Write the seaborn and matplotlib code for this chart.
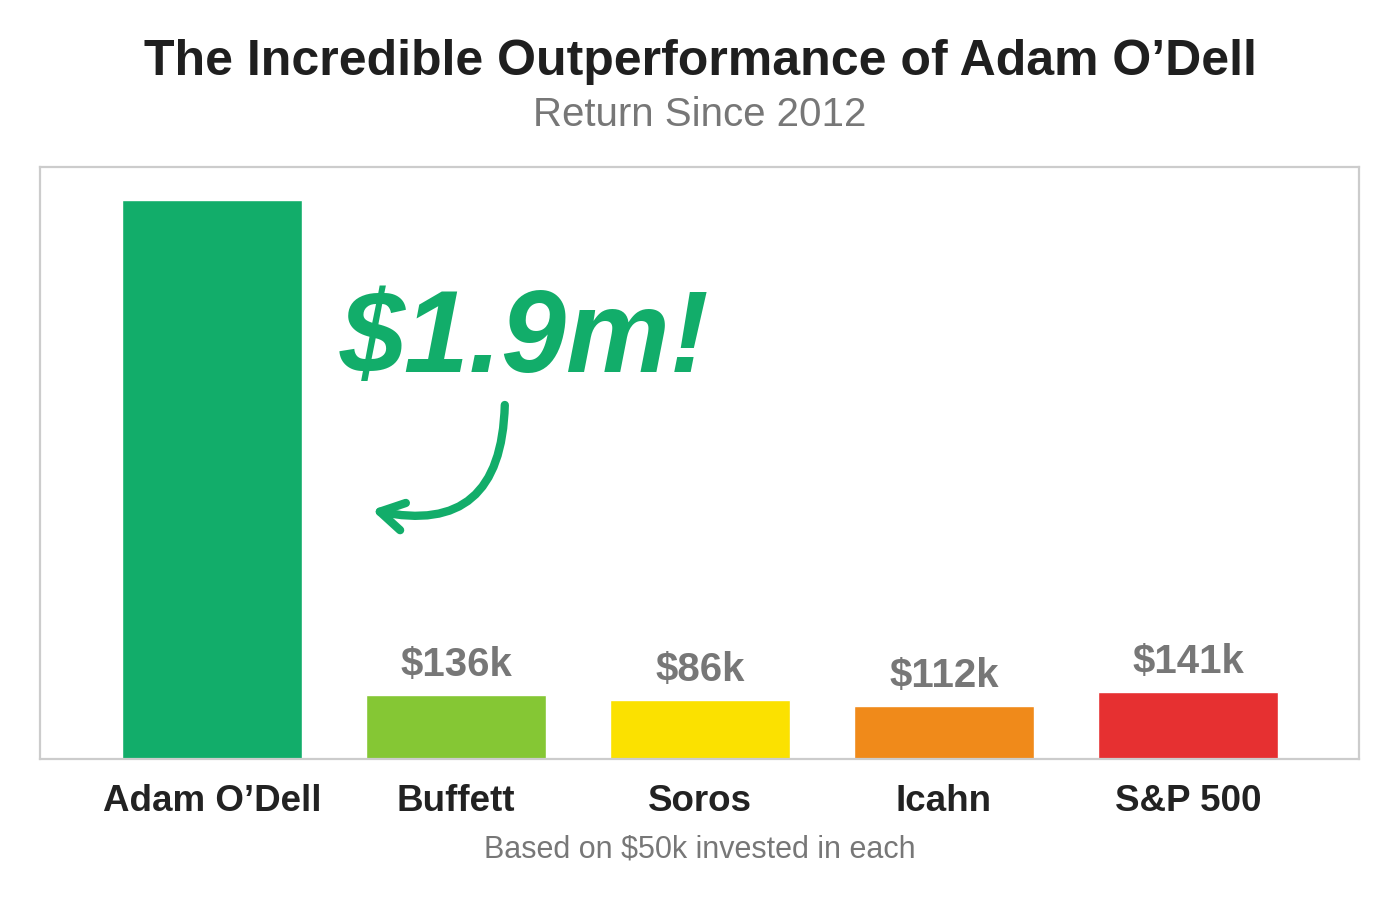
import matplotlib
matplotlib.use('Agg')
import pandas as pd
import seaborn as sns
import matplotlib.pyplot as plt

# values (bars are drawn at the heights shown, not to scale)
names = ['Adam O\u2019Dell', 'Buffett', 'Soros', 'Icahn', 'S&P 500']
bar_heights = [559, 64, 59, 53, 67]
value_labels = ['', '$136k', '$86k', '$112k', '$141k']
bar_colors = ['#12AD6A', '#85C734', '#FBE100', '#F08A1A', '#E63031']

sns.set_style('white')
plt.rcParams['font.family'] = ['Liberation Sans', 'DejaVu Sans']

df = pd.DataFrame({'name': names, 'height': bar_heights})

fig = plt.figure(figsize=(14, 9), dpi=100)
ax = fig.add_axes([40/1400, 141/900, 1319/1400, 592/900])

sns.barplot(data=df, x='name', y='height', hue='name', palette=bar_colors,
            width=0.738, saturation=1, legend=False, ax=ax)

ax.set_xlim(-0.705, 4.701)
ax.set_ylim(0, 592)
ax.set_xlabel('')
ax.set_ylabel('')
ax.set_yticks([])
ax.tick_params(axis='x', length=0, pad=18)
for lab in ax.get_xticklabels():
    lab.set_fontsize(26.5)
    lab.set_fontweight('bold')
    lab.set_color('#222222')
for s in ax.spines.values():
    s.set_color('#cccccc')
    s.set_linewidth(1.6)

# value labels above the small bars
for i, (h, t) in enumerate(zip(bar_heights, value_labels)):
    if t:
        ax.text(i, h + 11, t, ha='center', va='bottom', fontsize=29,
                fontweight='bold', color='#777777')

# big callout for the first bar
ax.text(0.525, 387, '$1.9m!', ha='left', va='baseline', fontsize=84,
        fontweight='bold', style='italic', color='#12AD6A')
ax.annotate('', xy=(0.655, 249), xytext=(1.2, 354),
            arrowprops=dict(arrowstyle='->,head_length=1.7,head_width=1.0',
                            connectionstyle='arc3,rad=-0.6', color='#12AD6A',
                            lw=6, capstyle='round', joinstyle='round',
                            shrinkA=0, shrinkB=0))

fig.text(0.5, 1 - 62/900, 'The Incredible Outperformance of Adam O\u2019Dell',
         ha='center', va='center', fontsize=36,
         fontweight='bold', color='#1f1f1f')
fig.text(0.5, 1 - 115/900, 'Return Since 2012', ha='center', va='center',
         fontsize=29, color='#777777')
fig.text(0.5, 1 - 850/900, 'Based on $50k invested in each', ha='center',
         va='center', fontsize=22, color='#777777')

fig.savefig('out.png', dpi=100)
